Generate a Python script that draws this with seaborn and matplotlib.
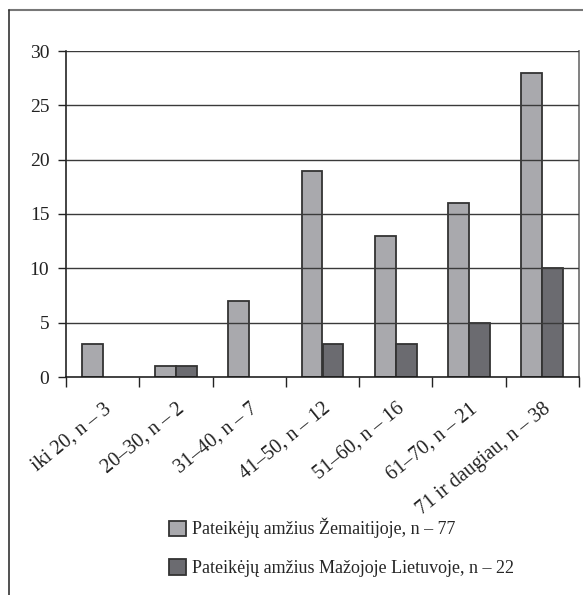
import matplotlib
matplotlib.use("Agg")
import matplotlib.pyplot as plt
from matplotlib.lines import Line2D
from matplotlib.ticker import FixedLocator
import seaborn as sns
import pandas as pd

# data
categories = ["iki 20, n – 3", "20–30, n – 2", "31–40, n – 7", "41–50, n – 12",
              "51–60, n – 16", "61–70, n – 21", "71 ir daugiau, n – 38"]
zemaitija = [3, 1, 7, 19, 13, 16, 28]
mazoji_lietuva = [0, 1, 0, 3, 3, 5, 10]
series_names = ["Pateikėjų amžius Žemaitijoje, n – 77",
                "Pateikėjų amžius Mažojoje Lietuvoje, n – 22"]
y_ticks = [0, 5, 10, 15, 20, 25, 30]

df = pd.DataFrame({
    "grupe": categories * 2,
    "reiksme": zemaitija + mazoji_lietuva,
    "serija": [series_names[0]] * len(categories) + [series_names[1]] * len(categories),
})

sns.set_theme(style="white")
plt.rcParams["font.family"] = ["Liberation Serif", "DejaVu Serif"]

fig = plt.figure(figsize=(5.83, 5.95), dpi=100)
ax = fig.add_axes([66 / 583, 1 - 377 / 595, (579 - 66) / 583, (377 - 51) / 595])

sns.barplot(data=df, x="grupe", y="reiksme", hue="serija", order=categories,
            hue_order=series_names, palette=["#a9a9ad", "#6b6b70"],
            width=0.57, gap=0, edgecolor="#333333", linewidth=1.3,
            saturation=1, ax=ax, legend=True)

# empty bars are not drawn in the reference
for cont in ax.containers:
    for p in cont:
        if p.get_height() == 0:
            p.set_visible(False)

ax.set_xlim(-0.5, len(categories) - 0.5)
ax.set_ylim(0, 30)
ax.set_yticks(y_ticks)
ax.set_yticklabels([str(v) for v in y_ticks], fontsize=14, color="#222222")
ax.set_xlabel("")
ax.set_ylabel("")

# gridlines on top of bars
ax.set_axisbelow(False)
ax.yaxis.grid(True, color="#3a3a3a", linewidth=1.0)
ax.xaxis.grid(False)

# category labels at centres, tick marks at the boundaries
ax.set_xticks(range(len(categories)))
ax.set_xticklabels(categories, rotation=39, ha="right", rotation_mode="anchor",
                   fontsize=14.5, color="#222222")
ax.tick_params(axis="x", which="major", length=0, pad=16)
ax.xaxis.set_minor_locator(FixedLocator([i + 0.5 for i in range(-1, len(categories))]))
ax.tick_params(axis="x", which="minor", bottom=True, length=7, width=1, color="#222222")
ax.tick_params(axis="y", left=True, length=6, width=1, color="#222222", pad=6)

for side in ["left", "bottom"]:
    ax.spines[side].set_color("#111111")
    ax.spines[side].set_linewidth(1.1)
ax.spines["right"].set_color("#777777")
ax.spines["right"].set_linewidth(1.3)
ax.spines["top"].set_visible(False)

# legend below the plot
handles, labels = ax.get_legend_handles_labels()
ax.get_legend().remove()
fig.legend(handles, labels, loc="upper left", bbox_to_anchor=(169 / 583, 1 - 518 / 595),
           frameon=False, fontsize=13, handlelength=0.95, handleheight=0.95,
           handletextpad=0.35, labelspacing=1.15, borderpad=0, borderaxespad=0)

# outer frame (top and left lines)
fig.add_artist(Line2D([9 / 583, 1], [1 - 10 / 595, 1 - 10 / 595], color="#777777", linewidth=1.5))
fig.add_artist(Line2D([9 / 583, 9 / 583], [0, 1 - 10 / 595], color="#333333", linewidth=1.2))

fig.savefig("out.png", dpi=100)
